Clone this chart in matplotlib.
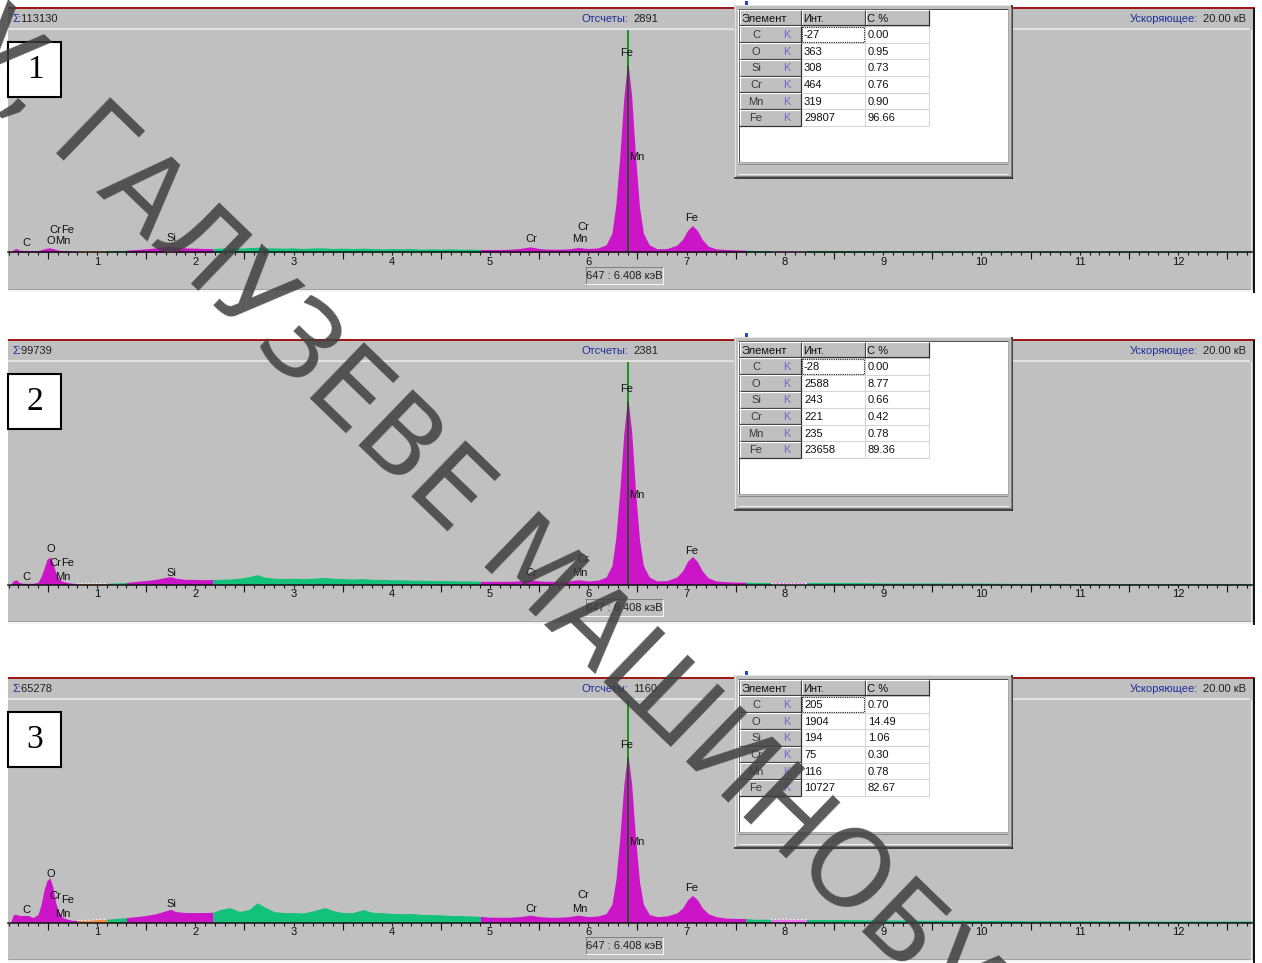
import numpy as np
import matplotlib.pyplot as plt
from matplotlib import ticker
from matplotlib.patches import Rectangle

plt.rcParams.update({
    "font.family": ["Liberation Sans", "DejaVu Sans"],
    "font.size": 8,
})

W, H = 1262, 963

# ---------------- DATA ----------------
ELEMENTS = ["C", "O", "Si", "Cr", "Mn", "Fe"]
TABLE_HEAD = ["Элемент", "Инт.", "С %"]
SUMS = [113130, 99739, 65278]
CURSOR_COUNTS = [2891, 2381, 1160]
CURSOR_CH = 647
CURSOR_KEV = 6.408
VOLTAGE = 20.00

INT_1 = [-27, 363, 308, 464, 319, 29807]
CONC_1 = [0.00, 0.95, 0.73, 0.76, 0.90, 96.66]
INT_2 = [-28, 2588, 243, 221, 235, 23658]
CONC_2 = [0.00, 8.77, 0.66, 0.42, 0.78, 89.36]
INT_3 = [205, 1904, 194, 75, 116, 10727]
CONC_3 = [0.70, 14.49, 1.06, 0.30, 0.78, 82.67]

# energy, keV
ENERGY = [
    0.12, 0.15, 0.18, 0.21, 0.25, 0.30, 0.35, 0.40, 0.43, 0.46,
    0.49, 0.52, 0.55, 0.58, 0.61, 0.65, 0.70, 0.75, 0.80, 0.90,
    1.00, 1.10, 1.20, 1.30, 1.40, 1.50, 1.60, 1.70, 1.75, 1.80,
    1.90, 2.00, 2.10, 2.18, 2.25, 2.35, 2.45, 2.55, 2.63, 2.70,
    2.80, 2.90, 3.00, 3.10, 3.20, 3.32, 3.40, 3.50, 3.60, 3.71,
    3.80, 3.90, 4.00, 4.10, 4.20, 4.30, 4.40, 4.50, 4.60, 4.70,
    4.80, 4.90, 5.00, 5.10, 5.20, 5.30, 5.41, 5.50, 5.60, 5.70,
    5.80, 5.90, 6.00, 6.10, 6.18, 6.24, 6.28, 6.32, 6.36, 6.40,
    6.44, 6.48, 6.52, 6.56, 6.62, 6.70, 6.80, 6.90, 6.96, 7.01,
    7.06, 7.11, 7.16, 7.22, 7.30, 7.40, 7.50, 7.60, 7.70, 7.86,
    8.00, 8.22, 8.40, 8.60, 8.80, 9.00, 9.25, 9.50, 9.75, 10.00,
    10.25, 10.50, 10.75, 11.00, 11.50, 12.00, 12.50, 12.75,
]
COUNTS_1 = [
    0, 45, 60, 35, 30, 30, 30, 30, 40, 55,
    65, 70, 60, 45, 35, 30, 25, 20, 15, 15,
    15, 20, 25, 35, 45, 55, 70, 90, 95, 80,
    70, 65, 60, 60, 65, 70, 65, 75, 80, 70,
    70, 65, 70, 60, 70, 70, 60, 65, 60, 65,
    60, 55, 60, 55, 60, 50, 55, 50, 55, 50,
    50, 45, 45, 45, 50, 60, 85, 60, 50, 50,
    55, 75, 60, 70, 115, 290, 720, 1450, 2310, 2891,
    2370, 1450, 690, 290, 115, 55, 60, 110, 200, 335,
    405, 330, 195, 95, 55, 45, 40, 35, 30, 30,
    30, 30, 30, 30, 25, 25, 25, 25, 20, 20,
    20, 15, 15, 15, 15, 15, 15, 15,
]
COUNTS_2 = [
    0, 50, 60, 25, 15, 15, 15, 30, 100, 200,
    315, 350, 280, 150, 75, 40, 25, 15, 12, 12,
    12, 15, 20, 25, 40, 50, 65, 90, 100, 80,
    65, 65, 60, 65, 65, 70, 80, 100, 125, 95,
    80, 75, 80, 75, 80, 90, 80, 75, 70, 75,
    65, 65, 60, 60, 55, 55, 50, 50, 50, 45,
    45, 40, 40, 40, 40, 45, 60, 45, 40, 40,
    45, 60, 45, 55, 95, 240, 595, 1190, 1900, 2381,
    1950, 1190, 570, 240, 95, 45, 50, 95, 175, 295,
    355, 290, 170, 85, 45, 35, 30, 30, 25, 25,
    25, 25, 25, 25, 25, 20, 20, 20, 18, 18,
    15, 15, 15, 12, 12, 12, 12, 12,
]
COUNTS_3 = [
    0, 55, 55, 48, 48, 48, 34, 55, 120, 220,
    285, 306, 245, 135, 70, 35, 22, 15, 14, 14,
    20, 22, 28, 34, 40, 48, 60, 80, 90, 75,
    68, 68, 68, 70, 88, 102, 75, 90, 135, 108,
    75, 68, 68, 65, 80, 102, 82, 68, 68, 88,
    70, 68, 62, 60, 62, 55, 55, 52, 48, 48,
    45, 42, 36, 36, 36, 40, 50, 40, 36, 36,
    40, 50, 40, 45, 60, 125, 290, 580, 930, 1160,
    950, 580, 280, 125, 55, 40, 45, 65, 100, 155,
    185, 155, 100, 60, 40, 30, 28, 27, 22, 22,
    22, 20, 20, 20, 18, 18, 16, 15, 15, 14,
    14, 12, 12, 12, 10, 10, 10, 10,
]

# colouring of the spectrum by region
REGION_EDGES = [0.12, 0.80, 1.10, 1.30, 2.18, 4.90, 7.60, 7.86, 8.22, 12.75]
REGION_KIND = ["peak", "dot", "bg", "peak", "bg", "peak", "bg", "dot2", "bg"]

LABEL_NAMES = ["C", "O", "Cr", "Fe", "Mn", "Si", "Cr", "Cr", "Mn", "Fe", "Mn", "Fe"]
LABEL_KEV = [0.277, 0.53, 0.573, 0.705, 0.65, 1.753, 5.42, 5.95, 5.91, 6.393, 6.49, 7.05]

# ---------------- LAYOUT ----------------
PANEL_Y = [0, 332, 670]
BASE = 252.5                      # baseline of spectrum inside a panel, px
Y_TOP = [3350, 2820, 1520]        # counts at the top of the plot area
LABEL_DY = [
    [9.5, 12, 22.5, 22.5, 11.5, 14.5, 13.5, 25.5, 13.5, 199.5, 95.5, 34.5],
    [8, 36, 21, 21, 7, 12, 12, 26, 12, 196, 90, 34],
    [12.5, 48.5, 26.5, 22.5, 8.5, 18.5, 13.5, 27.5, 13.5, 177.5, 80.5, 34.5],
]
PX0, PXK = -1.27, 98.27           # pixel of 0 keV, pixels per keV
KEV_LO, KEV_HI = (8 - PX0) / PXK, (1252 - PX0) / PXK
COL_X = [(739, 801), (801, 865), (865, 929)]
ROW_H = 16.67

GRAY = "#c0c0c0"
BLUE = "#1f2f9c"
FILL = {"peak": "#cc14c8", "bg": "#12c27a", "dot": "#f08a3c", "dot2": "#f070f0"}

fig = plt.figure(figsize=(W / 100, H / 100), dpi=100)
fig.patch.set_facecolor("white")


def px_rect(x0, y0, x1, y1):
    return [x0 / W, 1 - y1 / H, (x1 - x0) / W, (y1 - y0) / H]


def overlay(z):
    a = fig.add_axes([0, 0, 1, 1], zorder=z)
    a.set_xlim(0, W)
    a.set_ylim(H, 0)
    a.axis("off")
    return a


def box(ax, x0, y0, x1, y1, fc, ec="none", lw=0, **kw):
    ax.add_patch(Rectangle((x0, y0), x1 - x0, y1 - y0, facecolor=fc,
                           edgecolor=ec, linewidth=lw, **kw))


def hl(ax, y, x0, x1, c, w=1):
    ax.plot([x0, x1], [y, y], color=c, lw=w * 0.72, solid_capstyle="butt")


def vl(ax, x, y0, y1, c, w=1):
    ax.plot([x, x], [y0, y1], color=c, lw=w * 0.72, solid_capstyle="butt")


def bevel(ax, x0, y0, x1, y1, light, dark, w=1):
    hl(ax, y0 + 0.5, x0, x1, light, w)
    vl(ax, x0 + 0.5, y0, y1, light, w)
    hl(ax, y1 - 0.5, x0, x1, dark, w)
    vl(ax, x1 - 0.5, y0, y1, dark, w)


bg = overlay(0)
fg = overlay(2)
wm = overlay(3)

E = np.array(ENERGY)
spectra = [COUNTS_1, COUNTS_2, COUNTS_3]
tables = [(INT_1, CONC_1), (INT_2, CONC_2), (INT_3, CONC_3)]

for i in range(3):
    oy = PANEL_Y[i]
    counts = np.array(spectra[i], dtype=float)

    # --- window frame ---
    box(bg, 8, oy + 8, 1255, oy + 292, GRAY)
    hl(bg, oy + 8.5, 8, 1255, "#a01818", 2)
    hl(bg, oy + 28, 8, 1250, "#a4a4a4", 1)
    hl(bg, oy + 29.5, 8, 1250, "#f2f2f2", 1.5)
    hl(bg, oy + 289, 8, 1250, "#a0a0a0", 1)
    hl(bg, oy + 291, 8, 1255, "#f4f4f4", 2)
    vl(bg, 1250.5, oy + 29, oy + 290, "#ececec", 1)
    vl(bg, 1254, oy + 8, oy + 293, "#151515", 2)

    # --- header strip ---
    ty = oy + 18.5
    bg.text(12, ty, "Σ", color=BLUE, ha="left", va="center")
    bg.text(18, ty, f":{SUMS[i]}", color="#202020", ha="left", va="center")
    bg.text(628, ty, "Отсчеты:", color=BLUE, ha="right", va="center")
    bg.text(633, ty, f"{CURSOR_COUNTS[i]}", color="#202020", ha="left", va="center")
    bg.text(1198, ty, "Ускоряющее:", color=BLUE, ha="right", va="center")
    bg.text(1203, ty, f"{VOLTAGE:.2f} кВ", color="#202020", ha="left", va="center")

    # --- cursor read-out ---
    box(bg, 585, oy + 267, 663, oy + 285, GRAY)
    bevel(bg, 585, oy + 267, 663, oy + 285, "#808080", "#f4f4f4")
    bg.text(624, oy + 276, f"{CURSOR_CH} : {CURSOR_KEV:.3f} кэВ",
            ha="center", va="center", color="#202020")

    # --- spectrum ---
    ax = fig.add_axes(px_rect(8, oy + 30, 1252, oy + BASE), zorder=1)
    for a, b, kind in zip(REGION_EDGES[:-1], REGION_EDGES[1:], REGION_KIND):
        m = (E >= a) & (E <= b)
        ax.fill_between(E[m], 0, counts[m], color=FILL[kind], lw=0)
        if kind.startswith("dot"):
            ax.plot(E[m], counts[m], color="white", lw=0.9, ls=(0, (1, 2)))

    peak = np.interp(CURSOR_KEV, E, counts)
    ax.plot([CURSOR_KEV] * 2, [peak, Y_TOP[i]], color="#1d8f1d", lw=1.4)
    ax.plot([CURSOR_KEV] * 2, [0, peak], color="#2c4f2c", lw=1.4)

    for name, kev, dy in zip(LABEL_NAMES, LABEL_KEV, LABEL_DY[i]):
        ax.annotate(name, (kev, 0), xytext=(0, dy), textcoords="offset pixels",
                    ha="center", va="center", color="#101010",
                    annotation_clip=False)

    ax.set_xlim(KEV_LO, KEV_HI)
    ax.set_ylim(0, Y_TOP[i])
    ax.patch.set_visible(False)
    for s in ("top", "left", "right"):
        ax.spines[s].set_visible(False)
    ax.spines["bottom"].set_color("#101010")
    ax.spines["bottom"].set_linewidth(1.1)
    ax.yaxis.set_visible(False)
    ax.xaxis.set_major_locator(ticker.MultipleLocator(1))
    ax.xaxis.set_major_formatter(ticker.FormatStrFormatter("%d"))
    ax.xaxis.set_minor_locator(ticker.MultipleLocator(0.1))
    ax.tick_params(axis="x", which="both", direction="out", length=2.4,
                   width=0.8, colors="#101010", labelsize=8, pad=0.8)
    sec = ax.secondary_xaxis("bottom")
    sec.set_xticks(np.arange(0.5, 13, 1.0))
    sec.tick_params(length=5, width=0.8, colors="#101010", labelbottom=False)
    sec.spines["bottom"].set_visible(False)

    # --- panel number ---
    box(fg, 8, oy + 42, 61, oy + 97, "white", ec="black", lw=1.5)
    fg.text(35, oy + 70, str(i + 1), family=["Liberation Serif", "DejaVu Serif"],
            fontsize=24, ha="center", va="center")

    # --- result table window ---
    box(fg, 734, oy + 5, 1013, oy + 179, GRAY)
    hl(fg, oy + 5.5, 734, 1013, "#e4e4e4")
    vl(fg, 734.5, oy + 5, oy + 179, "#e4e4e4")
    hl(fg, oy + 178.3, 734, 1013, "#1a1a1a", 1.5)
    vl(fg, 1012.3, oy + 5, oy + 179, "#1a1a1a", 1.5)
    hl(fg, oy + 176.5, 736, 1011, "#808080")
    vl(fg, 1010.5, oy + 7, oy + 177, "#808080")
    box(fg, 738, oy + 9, 1008, oy + 162, "white")
    hl(fg, oy + 9.5, 738, 1008, "#505050")
    vl(fg, 738.5, oy + 9, oy + 162, "#505050")
    hl(fg, oy + 162, 738, 1008, "#a8a8a8")
    vl(fg, 1007.5, oy + 9, oy + 162, "#a8a8a8")
    box(fg, 738, oy + 164, 1008, oy + 175, GRAY)
    hl(fg, oy + 164.5, 738, 1008, "#8a8a8a")
    hl(fg, oy + 174.5, 738, 1008, "#f0f0f0")
    box(fg, 745, oy + 1, 748, oy + 5, "#2848c8")

    for (x0, x1), head in zip(COL_X, TABLE_HEAD):
        box(fg, x0, oy + 10, x1, oy + 26, GRAY)
        bevel(fg, x0, oy + 10, x1, oy + 26, "white", "#303030", 1.2)
        fg.text(x0 + 2, oy + 18.5, head, ha="left", va="center", color="#101010")

    ints, conc = tables[i]
    for r, el in enumerate(ELEMENTS):
        y0 = oy + 26 + r * ROW_H
        y1 = y0 + ROW_H
        yc = (y0 + y1) / 2 + 0.5
        box(fg, 739, y0, 801, y1, GRAY)
        bevel(fg, 739, y0, 801, y1, "white", "#303030", 1.2)
        fg.text(756, yc, el, ha="center", va="center", color="#3a3a3a")
        fg.text(787, yc, "K", ha="center", va="center", color="#6c6cc8")
        for (x0, x1), txt in zip(COL_X[1:], (str(ints[r]), f"{conc[r]:.2f}")):
            box(fg, x0, y0, x1, y1, "white", ec="#d4d4d4", lw=0.72)
            fg.text(x0 + 3, yc, txt, ha="left", va="center", color="#101010")
    fg.add_patch(Rectangle((802, oy + 27.5), 62, 15, fill=False, ec="#202020",
                           lw=0.8, ls=(0, (1, 1))))

# --- diagonal watermark ---
WM_KW = dict(fontsize=77, color="#3e3e3e", alpha=0.85, rotation=-44,
             rotation_mode="anchor", va="baseline", family="DejaVu Sans")
wm.text(48, 146, "ГАЛУЗЕВЕ МАШИНОБУДУВАННЯ", ha="left", **WM_KW)
wm.text(48, 146, "ДУ, ", ha="right", **WM_KW)

fig.savefig("out.png", dpi=100)
